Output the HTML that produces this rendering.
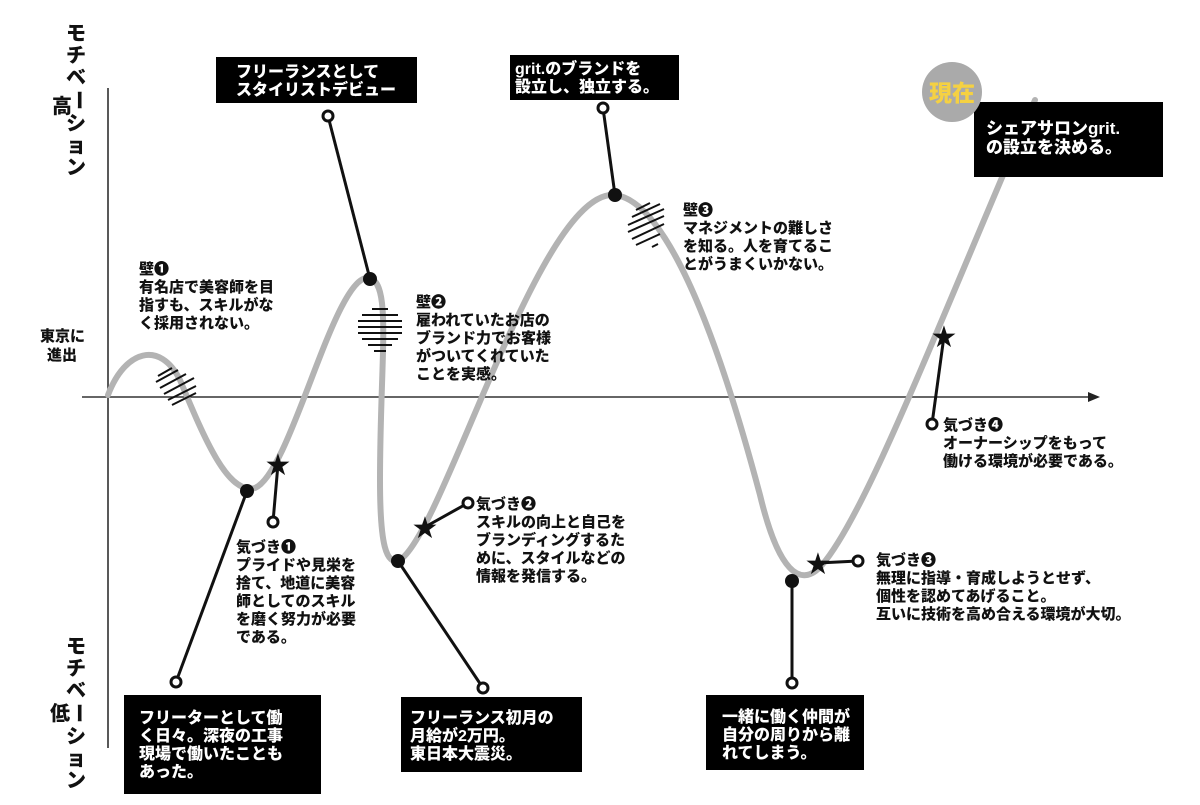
<!DOCTYPE html>
<html><head><meta charset="utf-8"><style>
body{margin:0;background:#fff;}
svg text{font-family:"Liberation Sans","Noto Sans CJK JP",sans-serif;font-weight:900;}
</style></head><body>
<svg width="1200" height="800" viewBox="0 0 1200 800" xmlns="http://www.w3.org/2000/svg">
<rect width="1200" height="800" fill="#fff"/>
<line x1="108" y1="88" x2="108" y2="748" stroke="#222" stroke-width="1.5"/>
<line x1="82" y1="397" x2="1092" y2="397" stroke="#333" stroke-width="1.5"/>
<polygon points="1100,397 1088,392 1088,402" fill="#222"/>
<path d="M108,395 C125,350 160,340 180,380 C205,440 228,495 255,488 C292,472 335,270 370,278 C392,285 380,360 380,480 C380,545 386,566 400,560 C445,530 540,188 615,195 C680,202 740,420 760,495 C778,570 800,590 822,565 C865,515 930,345 1035,100" fill="none" stroke="#b3b3b3" stroke-width="6" stroke-linecap="round"/>
<g stroke="#111" stroke-width="2">
<line x1="158" y1="376" x2="172" y2="368"/><line x1="156" y1="382" x2="178" y2="370"/><line x1="160" y1="388" x2="186" y2="374"/><line x1="164" y1="394" x2="194" y2="378"/><line x1="168" y1="400" x2="196" y2="386"/><line x1="172" y1="405" x2="196" y2="393"/>
<line x1="372" y1="309" x2="388" y2="309"/><line x1="362" y1="315" x2="398" y2="315"/><line x1="358" y1="321" x2="402" y2="321"/><line x1="358" y1="327" x2="402" y2="327"/><line x1="358" y1="333" x2="402" y2="333"/><line x1="362" y1="339" x2="398" y2="339"/><line x1="368" y1="345" x2="392" y2="345"/><line x1="374" y1="351" x2="386" y2="351"/>
<line x1="636" y1="210" x2="650" y2="203"/><line x1="632" y1="217" x2="660" y2="204"/><line x1="628" y1="225" x2="664" y2="209"/><line x1="628" y1="232" x2="664" y2="216"/><line x1="632" y1="239" x2="664" y2="224"/><line x1="636" y1="245" x2="660" y2="234"/><line x1="652" y1="247" x2="658" y2="244"/>
</g>
<g stroke="#111" stroke-width="3" fill="#fff">
<line x1="247" y1="491" x2="176" y2="682"/><line x1="370" y1="279" x2="328" y2="116"/><line x1="398" y1="561" x2="483" y2="688"/><line x1="615" y1="195" x2="603" y2="108"/><line x1="792" y1="581" x2="792" y2="683"/>
<line x1="278" y1="464" x2="273" y2="522"/><line x1="425" y1="527" x2="468" y2="503"/><line x1="818" y1="563" x2="858" y2="561"/><line x1="944" y1="336" x2="932" y2="424"/>
<circle cx="176" cy="682" r="5"/><circle cx="328" cy="116" r="5"/><circle cx="483" cy="688" r="5"/><circle cx="603" cy="108" r="5"/><circle cx="792" cy="683" r="5"/>
<circle cx="273" cy="522" r="5"/><circle cx="468" cy="503" r="5"/><circle cx="858" cy="561" r="5"/><circle cx="932" cy="424" r="5"/>
</g>
<g fill="#111">
<circle cx="247" cy="491" r="7"/><circle cx="370" cy="279" r="7"/><circle cx="398" cy="561" r="7"/><circle cx="615" cy="195" r="7"/><circle cx="792" cy="581" r="7"/>
</g>
<g fill="#111" font-size="30">
<text x="278" y="475" text-anchor="middle" style="font-family:'DejaVu Sans',sans-serif">★</text>
<text x="425" y="538" text-anchor="middle" style="font-family:'DejaVu Sans',sans-serif">★</text>
<text x="818" y="574" text-anchor="middle" style="font-family:'DejaVu Sans',sans-serif">★</text>
<text x="944" y="347" text-anchor="middle" style="font-family:'DejaVu Sans',sans-serif">★</text>
</g>
<g fill="#000">
<rect x="216" y="57" width="201" height="46"/><rect x="510" y="55" width="169" height="45"/><rect x="974" y="102" width="189" height="75"/>
<rect x="124" y="695" width="197" height="99"/><rect x="401" y="697" width="181" height="75"/><rect x="706" y="695" width="158" height="75"/>
</g>
<circle cx="952" cy="92" r="30" fill="#aaa"/>
<text x="952" y="101" text-anchor="middle" font-size="23" fill="#f5d142">現在</text>
<g fill="#fff" font-size="16">
<text x="236" y="77">フリーランスとして</text><text x="236" y="95">スタイリストデビュー</text>
<text x="515" y="74">grit.のブランドを</text><text x="515" y="92">設立し、独立する。</text>
<text x="986" y="134" font-size="17">シェアサロンgrit.</text><text x="986" y="153" font-size="17">の設立を決める。</text>
<text x="139" y="723">フリーターとして働</text><text x="139" y="741">く日々。深夜の工事</text><text x="139" y="759">現場で働いたことも</text><text x="139" y="777">あった。</text>
<text x="410" y="723">フリーランス初月の</text><text x="410" y="741">月給が2万円。</text><text x="410" y="759">東日本大震災。</text>
<text x="722" y="722">一緒に働く仲間が</text><text x="722" y="740">自分の周りから離</text><text x="722" y="758">れてしまう。</text>
</g>
<g fill="#111" font-size="15">
<text x="139" y="274">壁❶</text><text x="139" y="292">有名店で美容師を目</text><text x="139" y="310">指すも、スキルがな</text><text x="139" y="328">く採用されない。</text>
<text x="416" y="307">壁❷</text><text x="416" y="325">雇われていたお店の</text><text x="416" y="343">ブランド力でお客様</text><text x="416" y="361">がついてくれていた</text><text x="416" y="379">ことを実感。</text>
<text x="683" y="215">壁❸</text><text x="683" y="233">マネジメントの難しさ</text><text x="683" y="251">を知る。人を育てるこ</text><text x="683" y="269">とがうまくいかない。</text>
<text x="236" y="552">気づき❶</text><text x="236" y="570">プライドや見栄を</text><text x="236" y="588">捨て、地道に美容</text><text x="236" y="606">師としてのスキル</text><text x="236" y="624">を磨く努力が必要</text><text x="236" y="642">である。</text>
<text x="476" y="509">気づき❷</text><text x="476" y="527">スキルの向上と自己を</text><text x="476" y="545">ブランディングするた</text><text x="476" y="563">めに、スタイルなどの</text><text x="476" y="581">情報を発信する。</text>
<text x="876" y="565">気づき❸</text><text x="876" y="583">無理に指導・育成しようとせず、</text><text x="876" y="601">個性を認めてあげること。</text><text x="876" y="619">互いに技術を高め合える環境が大切。</text>
<text x="943" y="430">気づき❹</text><text x="943" y="448">オーナーシップをもって</text><text x="943" y="466">働ける環境が必要である。</text>
<text x="40" y="341">東京に</text><text x="47" y="360">進出</text>
</g>
<g fill="#111" font-size="20">
<text x="52" y="113">高</text><text x="50" y="720">低</text>
<text x="76" y="40" text-anchor="middle">モ</text><text x="76" y="62" text-anchor="middle">チ</text><text x="76" y="84" text-anchor="middle">ベ</text>
<g transform="translate(3,0)"><text x="76" y="107" text-anchor="middle" transform="rotate(90 76 100)">ー</text></g><text x="76" y="130" text-anchor="middle">シ</text><text x="76" y="152" text-anchor="middle">ョ</text><text x="76" y="174" text-anchor="middle">ン</text>
<text x="76" y="653" text-anchor="middle">モ</text><text x="76" y="675" text-anchor="middle">チ</text><text x="76" y="697" text-anchor="middle">ベ</text>
<g transform="translate(3,0)"><text x="76" y="720" text-anchor="middle" transform="rotate(90 76 713)">ー</text></g><text x="76" y="743" text-anchor="middle">シ</text><text x="76" y="765" text-anchor="middle">ョ</text><text x="76" y="787" text-anchor="middle">ン</text>
</g>
</svg>
</body></html>
